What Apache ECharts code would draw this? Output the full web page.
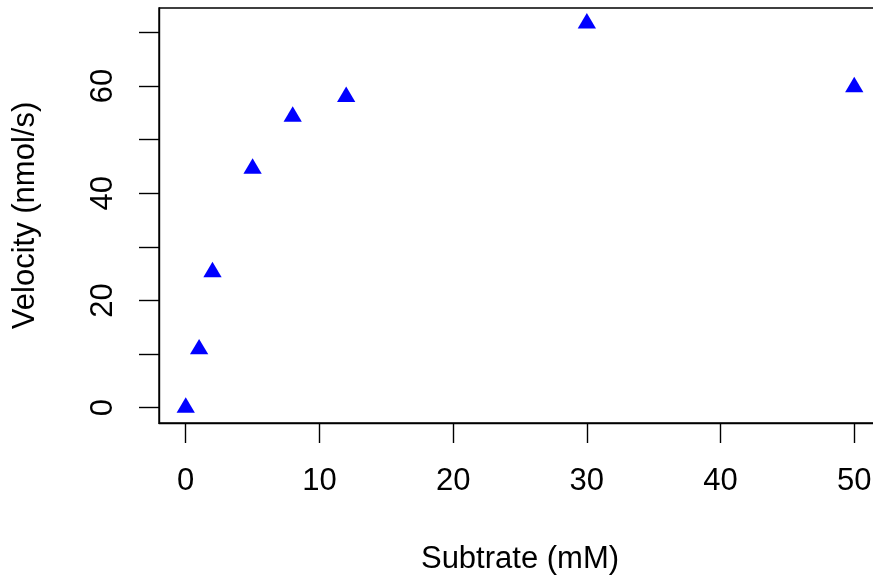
<!DOCTYPE html>
<html>
<head>
<meta charset="utf-8">
<script src="https://cdn.jsdelivr.net/npm/echarts@6/dist/echarts.min.js"></script>
<style>
  html, body { margin: 0; padding: 0; background: #fff; }
  #chart { width: 873px; height: 576px; }
</style>
</head>
<body>
<div id="chart"></div>
<script>
// substrate concentration (mM) and measured velocity (nmol/s)
const substrate = [0, 1, 2, 5, 8, 12, 30, 50];
const velocity = [0, 10.9, 25.3, 44.6, 54.3, 58.0, 71.7, 59.8];

const xTicks = [0, 10, 20, 30, 40, 50];
const yTicks = [0, 10, 20, 30, 40, 50, 60, 70];
const yTickLabels = [0, 20, 40, 60];

// R style axis range: data range padded by 4% on each side
function padRange(arr) {
  const lo = Math.min(...arr), hi = Math.max(...arr);
  const d = (hi - lo) * 0.04;
  return [lo - d, hi + d];
}
const xr = padRange(substrate);
const yr = padRange(velocity);

const font = 'Liberation Sans, Arial, Helvetica, sans-serif';
const chart = echarts.init(document.getElementById('chart'));

chart.setOption({
  backgroundColor: '#fff',
  animation: false,
  grid: {
    show: true,
    left: 159,
    top: 8,
    width: 722,
    height: 415,
    outerBoundsMode: 'none',
    containLabel: false,
    borderColor: '#000',
    borderWidth: 1.4,
    backgroundColor: 'transparent'
  },
  xAxis: {
    type: 'value',
    position: 'bottom',
    min: xr[0],
    max: xr[1],
    name: 'Subtrate (mM)',
    nameLocation: 'middle',
    nameGap: 121,
    nameTextStyle: { color: '#000', fontSize: 31, fontFamily: font },
    axisLine: { show: true, onZero: false, lineStyle: { color: '#000', width: 1.4 } },
    splitLine: { show: false },
    axisTick: {
      show: true, inside: false, length: 20, customValues: xTicks,
      lineStyle: { color: '#000', width: 1.4 }
    },
    axisLabel: {
      inside: false, customValues: xTicks, margin: 43,
      color: '#000', fontSize: 31, fontFamily: font
    }
  },
  yAxis: {
    type: 'value',
    position: 'left',
    min: yr[0],
    max: yr[1],
    name: 'Velocity (nmol/s)',
    nameLocation: 'middle',
    nameRotate: 90,
    nameGap: 118,
    nameTextStyle: { color: '#000', fontSize: 31, fontFamily: font },
    axisLine: { show: true, onZero: false, lineStyle: { color: '#000', width: 1.4 } },
    splitLine: { show: false },
    axisTick: {
      show: true, inside: false, length: 20, customValues: yTicks,
      lineStyle: { color: '#000', width: 1.4 }
    },
    axisLabel: {
      inside: false, customValues: yTickLabels, margin: 40, rotate: 90,
      color: '#000', fontSize: 31, fontFamily: font
    }
  },
  series: [{
    type: 'scatter',
    data: substrate.map((s, i) => [s, velocity[i]]),
    symbol: 'triangle',
    symbolSize: [18.3, 15.4],
    symbolOffset: [0, -2.6],
    itemStyle: { color: '#0000ff', opacity: 1 },
    clip: false
  }]
});
</script>
</body>
</html>
